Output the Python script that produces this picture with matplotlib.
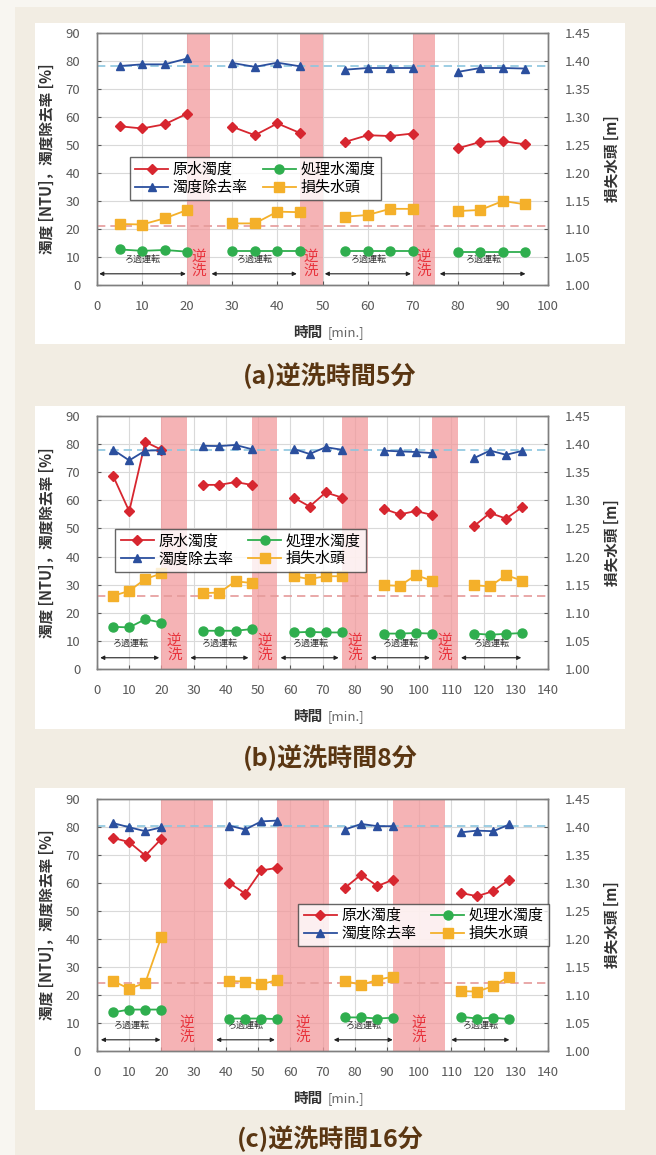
import matplotlib.pyplot as plt
from matplotlib.patches import Rectangle
from matplotlib.lines import Line2D

plt.rcParams['font.family'] = ['Noto Sans CJK JP', 'DejaVu Sans']

W, H = 656, 1155

# (a) 逆洗時間5分
t_a = [[5, 10, 15, 20], [30, 35, 40, 45], [55, 60, 65, 70], [80, 85, 90, 95]]
raw_a = [[56.7, 55.9, 57.4, 61.2], [56.5, 53.5, 57.7, 54.3],
         [51.1, 53.5, 53.2, 54.1], [48.8, 51.1, 51.4, 50.2]]
treated_a = [[12.7, 12.2, 12.5, 11.9], [12.2, 12.2, 12.2, 12.2],
             [12.2, 12.2, 12.2, 12.2], [11.7, 11.7, 11.7, 11.7]]
removal_a = [[78.2, 78.8, 78.8, 80.9], [79.3, 77.9, 79.4, 78.1],
             [76.9, 77.5, 77.5, 77.5], [76.1, 77.5, 77.5, 77.3]]
headloss_a = [[1.109, 1.108, 1.119, 1.134], [1.110, 1.110, 1.131, 1.130],
              [1.122, 1.125, 1.136, 1.136], [1.132, 1.134, 1.150, 1.144]]
backwash_a = [(20, 25), (45, 50), (70, 75)]
runs_a = [(0.5, 19.7), (25.4, 44.3), (50.5, 69.6), (76, 95)]
removal_mean_a = 78.2
headloss_base_a = 1.106

# (b) 逆洗時間8分
t_b = [[5, 10, 15, 20], [33, 38, 43, 48], [61, 66, 71, 76],
       [89, 94, 99, 104], [117, 122, 127, 132]]
raw_b = [[68.7, 56.1, 80.8, 78.0], [65.5, 65.5, 66.5, 65.5],
         [61.0, 57.8, 62.8, 61.0], [57.0, 55.0, 56.2, 54.8],
         [50.8, 55.5, 53.5, 57.6]]
treated_b = [[15.0, 14.8, 17.7, 16.5], [13.6, 13.6, 13.6, 14.2],
             [13.0, 13.2, 13.0, 13.0], [12.6, 12.6, 12.8, 12.6],
             [12.6, 12.2, 12.5, 12.8]]
removal_b = [[78.0, 74.2, 77.7, 77.8], [79.4, 79.3, 79.7, 78.2],
             [78.3, 76.5, 78.9, 78.0], [77.7, 77.4, 77.2, 76.8],
             [75.0, 77.7, 76.2, 77.6]]
headloss_b = [[1.130, 1.139, 1.160, 1.170], [1.135, 1.136, 1.156, 1.153],
              [1.165, 1.160, 1.165, 1.165], [1.149, 1.148, 1.167, 1.157],
              [1.149, 1.147, 1.167, 1.157]]
backwash_b = [(20, 28), (48, 56), (76, 84), (104, 112)]
runs_b = [(1, 19.3), (29, 47), (57, 75), (85, 103.3), (113, 131.7)]
removal_mean_b = 77.8
headloss_base_b = 1.130

# (c) 逆洗時間16分
t_c = [[5, 10, 15, 20], [41, 46, 51, 56], [77, 82, 87, 92], [113, 118, 123, 128]]
raw_c = [[76.1, 74.6, 69.8, 75.8], [60.1, 56.2, 64.5, 65.4],
         [58.3, 63.0, 58.9, 61.2], [56.4, 55.3, 57.1, 61.2]]
treated_c = [[13.8, 14.8, 14.8, 14.8], [11.6, 11.6, 11.6, 11.4],
             [12.0, 12.0, 11.6, 11.9], [12.2, 11.6, 11.9, 11.4]]
removal_c = [[81.4, 79.9, 78.5, 79.9], [80.5, 79.1, 82.0, 82.3],
             [79.1, 81.1, 80.3, 80.3], [78.1, 78.7, 78.5, 80.9]]
headloss_c = [[1.125, 1.111, 1.122, 1.204], [1.125, 1.124, 1.119, 1.127],
              [1.125, 1.118, 1.127, 1.133], [1.107, 1.106, 1.116, 1.133]]
backwash_c = [(20, 36), (56, 72), (92, 108)]
runs_c = [(1.2, 19.7), (37, 55.2), (73.5, 91.8), (110, 128)]
removal_mean_c = 80.3
headloss_base_c = 1.122

RED = '#d7262f'
GREEN = '#2fae4e'
BLUE = '#2b4f9e'
ORANGE = '#f4b02a'
BAND = '#f29a9c'
TICK = '#595959'

fig = plt.figure(figsize=(W / 100, H / 100), dpi=100)
fig.patch.set_facecolor('#f2ede3')
# pale margin at top and left
fig.add_artist(Rectangle((0, 0), 15 / W, 1, transform=fig.transFigure,
                         facecolor='#f8f6f1', edgecolor='none', zorder=0))
fig.add_artist(Rectangle((0, 1 - 7 / H), 1, 7 / H, transform=fig.transFigure,
                         facecolor='#f8f6f1', edgecolor='none', zorder=0))


def px_box(l, t, r, b):
    return [l / W, 1 - b / H, (r - l) / W, (b - t) / H]


def draw_panel(card, area, xmax, t, raw, treated, removal, headloss,
               backwash, runs, removal_mean, headloss_base, leg_anchor,
               title, title_y):
    l, tp, r, b = card
    fig.add_artist(Rectangle((l / W, 1 - b / H), (r - l) / W, (b - tp) / H,
                             transform=fig.transFigure, facecolor='white',
                             edgecolor='none', zorder=0))
    ax = fig.add_axes(px_box(*area))
    ax2 = ax.twinx()

    for x0, x1 in backwash:
        ax.axvspan(x0, x1, color=BAND, alpha=0.75, lw=0, zorder=1)
        ax.text((x0 + x1) / 2, 7.5, '逆\n洗', color='#e8333c', fontsize=10.5,
                ha='center', va='center', linespacing=0.95, zorder=2)
    for x0, x1 in runs:
        ax.annotate('', xy=(x0, 4), xytext=(x1, 4),
                    arrowprops=dict(arrowstyle='<|-|>', color='#222222',
                                    lw=0.8, mutation_scale=6,
                                    shrinkA=0, shrinkB=0), zorder=3)
        ax.text((x0 + x1) / 2, 9, 'ろ過運転', fontsize=6.5, color='#333333',
                ha='center', va='center', zorder=3)

    ax.axhline(removal_mean, color='#8cc6df', lw=1.2, ls=(0, (5, 3)), zorder=2)
    ax2.axhline(headloss_base, color='#e59a9a', lw=1.2, ls=(0, (5, 3)), zorder=2)

    for i in range(len(t)):
        ax.plot(t[i], raw[i], color=RED, marker='D', ms=5, lw=1.3, zorder=4)
        ax.plot(t[i], treated[i], color=GREEN, marker='o', ms=6.5, lw=1.3, zorder=4)
        ax.plot(t[i], removal[i], color=BLUE, marker='^', ms=5.5, lw=1.3, zorder=4)
        ax2.plot(t[i], headloss[i], color=ORANGE, marker='s', ms=6.5, lw=1.3, zorder=4)

    ax.set_xlim(0, xmax)
    ax.set_ylim(0, 90)
    ax.set_xticks(range(0, xmax + 1, 10))
    ax.set_yticks(range(0, 91, 10))
    ax2.set_ylim(1.00, 1.45)
    ax2.set_yticks([1.00 + 0.05 * k for k in range(10)])
    ax2.set_yticklabels([f'{1.00 + 0.05 * k:.2f}' for k in range(10)])
    ax.grid(color='#d9d9d9', lw=0.8, zorder=0)
    ax.set_axisbelow(True)
    for a in (ax, ax2):
        a.tick_params(labelsize=9.5, colors=TICK, length=3, direction='in', pad=12)
        for s in a.spines.values():
            s.set_color('#7f7f7f')
            s.set_linewidth(1.0)
    ax.tick_params(axis='x', pad=11)

    # x label: bold 時間 followed by a lighter unit
    ax.annotate('時間', xy=(0.5, 0), xycoords='axes fraction',
                xytext=(0, -34), textcoords='offset points', fontsize=10.5,
                fontweight='bold', color='#333333', ha='right', va='center')
    ax.annotate('[min.]', xy=(0.5, 0), xycoords='axes fraction',
                xytext=(4, -34), textcoords='offset points', fontsize=9.5,
                color='#666666', ha='left', va='center')
    ax.set_ylabel('濁度 [NTU]，濁度除去率 [%]', fontsize=10.5, color='#333333',
                  fontweight='bold', labelpad=8)
    ax2.set_ylabel('損失水頭 [m]', fontsize=10.5, color='#333333',
                   fontweight='bold', labelpad=10)

    handles = [
        Line2D([], [], color=RED, marker='D', ms=5, lw=1.3),
        Line2D([], [], color=GREEN, marker='o', ms=6.5, lw=1.3),
        Line2D([], [], color=BLUE, marker='^', ms=5.5, lw=1.3),
        Line2D([], [], color=ORANGE, marker='s', ms=6.5, lw=1.3),
    ]
    labels = ['原水濁度', '処理水濁度', '濁度除去率', '損失水頭']
    order = [0, 2, 1, 3]
    leg = ax2.legend([handles[k] for k in order], [labels[k] for k in order],
                     ncol=2, loc='upper left', bbox_to_anchor=leg_anchor,
                     fontsize=10.8, frameon=True, fancybox=False,
                     handlelength=2.2, handletextpad=0.3, columnspacing=1.0,
                     borderpad=0.35, labelspacing=0.25)
    leg.get_frame().set_edgecolor('#404040')
    leg.get_frame().set_linewidth(1.0)
    leg.set_zorder(6)

    fig.text(0.5 * (l + r) / W, 1 - title_y / H, title, fontsize=18,
             fontweight='bold', color='#5a3612', ha='center', va='center')


draw_panel((35, 23, 625, 344), (97, 33, 548, 285), 100,
           t_a, raw_a, treated_a, removal_a, headloss_a,
           backwash_a, runs_a, removal_mean_a, headloss_base_a,
           (0.057, 0.536), '(a)逆洗時間5分', 376)
draw_panel((35, 406, 625, 729), (97, 416, 548, 669), 140,
           t_b, raw_b, treated_b, removal_b, headloss_b,
           backwash_b, runs_b, removal_mean_b, headloss_base_b,
           (0.024, 0.584), '(b)逆洗時間8分', 758)
draw_panel((35, 788, 625, 1110), (97, 799, 548, 1051), 140,
           t_c, raw_c, treated_c, removal_c, headloss_c,
           backwash_c, runs_c, removal_mean_c, headloss_base_c,
           (0.43, 0.615), '(c)逆洗時間16分', 1139)

fig.savefig('out.png', dpi=100, facecolor=fig.get_facecolor())
